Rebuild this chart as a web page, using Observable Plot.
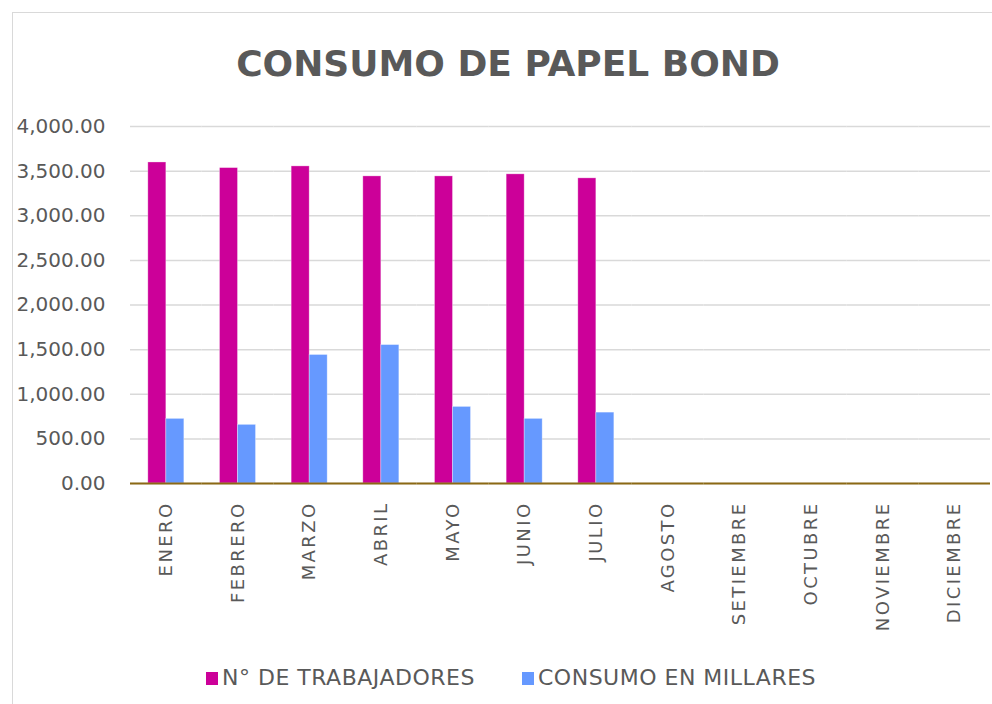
<!DOCTYPE html>
<html>
<head>
<meta charset="utf-8">
<script src="https://cdn.jsdelivr.net/npm/d3@7"></script>
<script src="https://cdn.jsdelivr.net/npm/@observablehq/plot@0.6"></script>
<style>
  html, body { margin: 0; padding: 0; background: #fff; }
  body { width: 992px; height: 704px; overflow: hidden; position: relative; font-family: "DejaVu Sans", sans-serif; }
  #frame { position: absolute; left: 12px; top: 12px; width: 1100px; height: 800px; border: 1px solid #d9d9d9; box-sizing: border-box; }
  #title { position: absolute; left: 12px; width: 992px; top: 42px; text-align: center; font-weight: bold; font-size: 36px; color: #595959; line-height: 44px; }
  #chart { position: absolute; left: 0; top: 100px; }
  #chart [aria-label="fx-axis tick label"] text { letter-spacing: 2.4px; }
  #legend { position: absolute; top: 663px; left: 0; width: 992px; height: 30px; }
  .item { position: absolute; top: 0; display: flex; align-items: center; font-size: 22px; letter-spacing: 0.5px; color: #595959; line-height: 30px; white-space: nowrap; }
  .sw { width: 12px; height: 13px; margin-right: 4px; }
</style>
</head>
<body>
<div id="frame"></div>
<div id="title">CONSUMO DE PAPEL BOND</div>
<div id="chart"></div>
<div id="legend"></div>
<script>
const months = ["ENERO", "FEBRERO", "MARZO", "ABRIL", "MAYO", "JUNIO", "JULIO", "AGOSTO", "SETIEMBRE", "OCTUBRE", "NOVIEMBRE", "DICIEMBRE"];
const seriesNames = ["N° DE TRABAJADORES", "CONSUMO EN MILLARES"];
const trabajadores = [3597, 3534, 3553, 3441, 3441, 3464, 3419, null, null, null, null, null];
const consumo = [724, 657, 1440, 1551, 858, 724, 794, null, null, null, null, null];
const yTicks = [0, 500, 1000, 1500, 2000, 2500, 3000, 3500, 4000];
const seriesColors = ["#CC0099", "#6699FF"];

const data = months.flatMap((m, i) => [
  {month: m, serie: seriesNames[0], value: trabajadores[i]},
  {month: m, serie: seriesNames[1], value: consumo[i]}
]);

const chart = Plot.plot({
  width: 992,
  height: 550,
  marginLeft: 130,
  marginRight: 2,
  marginTop: 26,
  marginBottom: 167,
  style: {fontFamily: "DejaVu Sans", color: "#595959", background: "transparent", overflow: "visible"},
  fx: {domain: months, padding: 0, label: null, round: false},
  x: {domain: seriesNames, axis: null, paddingInner: 0, paddingOuter: 0.99, round: false},
  y: {domain: [0, 4000]},
  color: {domain: seriesNames, range: seriesColors},
  marks: [
    Plot.gridY(yTicks, {stroke: "#d9d9d9", strokeOpacity: 1, strokeWidth: 1.5}),
    Plot.axisY(yTicks, {tickSize: 0, tickPadding: 25, tickFormat: d3.format(",.2f"), fontSize: 20, label: null, fill: "#595959"}),
    Plot.barY(data, {fx: "month", x: "serie", y: "value", fill: "serie", stroke: "#fff", strokeOpacity: 0.4, strokeWidth: 0.8}),
    Plot.ruleY([0], {stroke: "#8B6914", strokeWidth: 2}),
    Plot.axisFx({anchor: "bottom", tickRotate: -90, tickSize: 0, tickPadding: 18, fontSize: 18, label: null, fill: "#595959"})
  ]
});
document.getElementById("chart").appendChild(chart);

const legend = document.getElementById("legend");
const legendX = [206, 522];
seriesNames.forEach((s, i) => {
  const d = document.createElement("div");
  d.className = "item";
  d.style.left = legendX[i] + "px";
  d.innerHTML = `<span class="sw" style="background:${seriesColors[i]}"></span><span>${s}</span>`;
  legend.appendChild(d);
});
</script>
</body>
</html>
